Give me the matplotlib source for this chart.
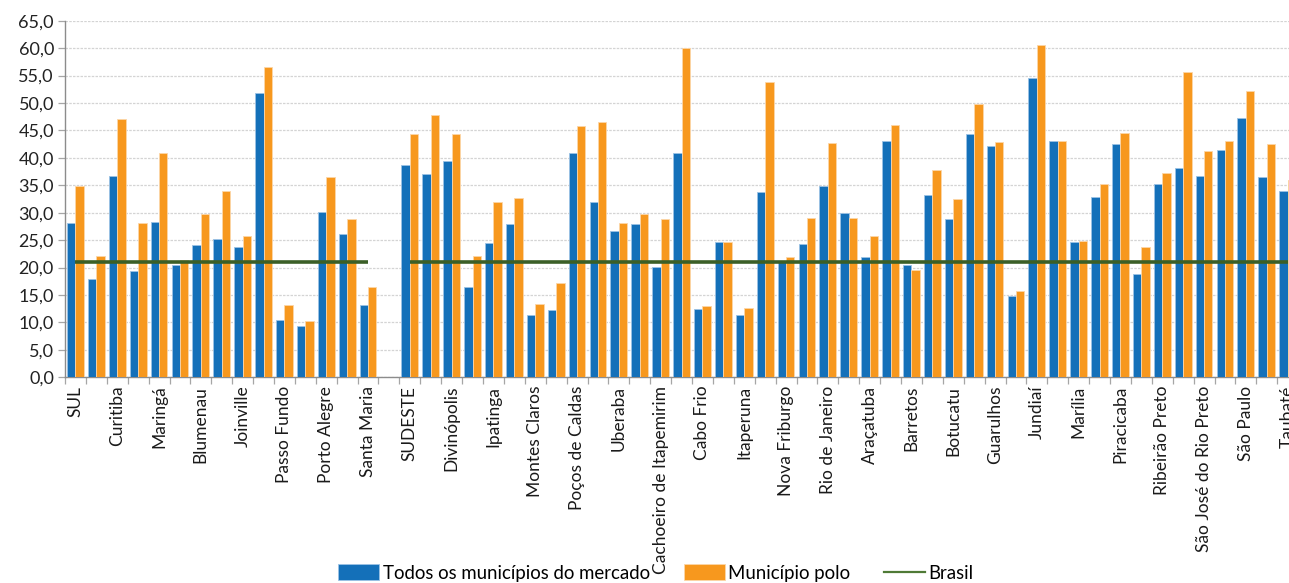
import numpy as np
import matplotlib
matplotlib.use("Agg")
import matplotlib.pyplot as plt
from matplotlib.ticker import FuncFormatter, FixedLocator

plt.rcParams['font.family'] = ['Lato', 'DejaVu Sans']

# Categories (labels are printed on every other category; the empty slot separates the regions)
categories = [
    "SUL", "", "Curitiba", "", "Maringá", "", "Blumenau", "", "Joinville", "",
    "Passo Fundo", "", "Porto Alegre", "", "Santa Maria", "",
    "SUDESTE", "", "Divinópolis", "", "Ipatinga", "", "Montes Claros", "",
    "Poços de Caldas", "", "Uberaba", "", "Cachoeiro de Itapemirim", "",
    "Cabo Frio", "", "Itaperuna", "", "Nova Friburgo", "", "Rio de Janeiro", "",
    "Araçatuba", "", "Barretos", "", "Botucatu", "", "Guarulhos", "",
    "Jundiaí", "", "Marília", "", "Piracicaba", "", "Ribeirão Preto", "",
    "São José do Rio Preto", "", "São Paulo", "", "Taubaté",
]

todos_mercado = [
    28.2, 18.0, 36.7, 19.3, 28.3, 20.4, 24.2, 25.2, 23.7, 51.8,
    10.4, 9.4, 30.1, 26.1, 13.2, np.nan,
    38.7, 37.0, 39.4, 16.5, 24.4, 27.9, 11.3, 12.3,
    40.9, 31.9, 26.7, 28.0, 20.1, 40.9,
    12.4, 24.7, 11.3, 33.7, 21.0, 24.3, 34.9, 30.0,
    22.0, 43.1, 20.5, 33.3, 28.9, 44.3, 42.2, 14.9,
    54.6, 43.1, 24.7, 32.8, 42.5, 18.8, 35.3, 38.1,
    36.7, 41.4, 47.2, 36.6, 33.9,
]

municipio_polo = [
    34.8, 22.1, 47.1, 28.2, 40.9, 21.4, 29.7, 34.0, 25.8, 56.6,
    13.2, 10.2, 36.6, 28.9, 16.5, np.nan,
    44.3, 47.8, 44.3, 22.2, 31.9, 32.6, 13.4, 17.1,
    45.8, 46.5, 28.2, 29.8, 28.9, 60.0,
    13.0, 24.7, 12.6, 53.8, 21.9, 29.0, 42.7, 29.0,
    25.8, 46.0, 19.5, 37.7, 32.5, 49.8, 42.8, 15.7,
    60.5, 43.1, 24.8, 35.3, 44.5, 23.7, 37.2, 55.7,
    41.3, 43.1, 52.1, 42.6, 35.9,
]

brasil_value = 21.0
brasil = [np.nan if not np.isfinite(v) else brasil_value for v in todos_mercado]

y_ticks = np.arange(0, 65.1, 5)

BLUE = "#1470B9"
ORANGE = "#F7981E"
GREEN = "#3B5F27"

W, H = 1289, 583
fig = plt.figure(figsize=(W / 100, H / 100), dpi=100)
ax = fig.add_axes([65 / W, 1 - 377.3 / H, (W - 65) / W, (377.3 - 20.7) / H])

x = np.arange(len(categories))
bw = 0.4
ax.bar(x - bw / 2, todos_mercado, width=bw, color=BLUE, edgecolor="#9CC2E5",
       linewidth=0.6, label="Todos os municípios do mercado", zorder=3)
ax.bar(x + bw / 2, municipio_polo, width=bw, color=ORANGE, edgecolor="#FCD6A8",
       linewidth=0.6, label="Município polo", zorder=3)
ax.plot(x, brasil, color=GREEN, linewidth=2.6, zorder=4, solid_capstyle="butt")

# legend line drawn thinner than the series line
legend_line = plt.Line2D([], [], color="#4F7A36", linewidth=1.6, label="Brasil")

ax.set_ylim(0, 65)
ax.set_xlim(-0.5, (W - 65) / 20.9 - 0.5)
ax.yaxis.set_major_locator(FixedLocator(y_ticks))
ax.yaxis.set_major_formatter(FuncFormatter(lambda v, p: f"{v:.1f}".replace(".", ",")))
ax.grid(axis="y", color="#D4D4D4", linestyle=(0, (2, 1)), linewidth=0.9, zorder=0)
ax.set_axisbelow(True)

ax.set_xticks(x)
ax.set_xticklabels(categories, rotation=90, fontsize=12.5, color="#1a1a1a")
ax.tick_params(axis="x", which="major", length=0, pad=6)
ax.xaxis.set_minor_locator(FixedLocator(np.arange(-0.5, len(categories) + 0.5, 1)))
ax.tick_params(axis="x", which="minor", length=5, color="#A6A6A6", width=0.9)
ax.tick_params(axis="y", length=5, color="#A6A6A6", width=0.9, labelsize=13,
               labelcolor="#222222", pad=3)

for s in ("top", "right"):
    ax.spines[s].set_visible(False)
for s in ("left", "bottom"):
    ax.spines[s].set_color("#8C8C8C")
    ax.spines[s].set_linewidth(1.0)

handles, labels = ax.get_legend_handles_labels()
handles.append(legend_line)
labels.append("Brasil")
fig.legend(handles, labels, loc="center", bbox_to_anchor=(656 / W, 1 - 573 / H),
           ncol=3, frameon=False, fontsize=13.4, handlelength=2.2, handleheight=0.9,
           handletextpad=0.2, columnspacing=1.8)

fig.savefig("out.png", dpi=100)
